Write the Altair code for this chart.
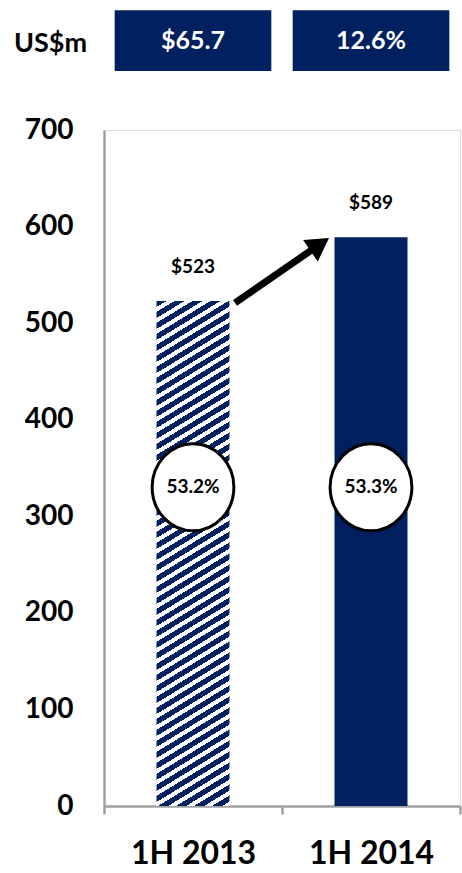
import altair as alt
import pandas as pd

# ---- data ----
categories = ["1H 2013", "1H 2014"]
revenue = [523, 589]
revenue_labels = ["$523", "$589"]
margin_labels = ["53.2%", "53.3%"]
header_labels = ["$65.7", "12.6%"]
unit_label = "US$m"

# ---- style ----
NAVY = "#002060"
GREY = "#a0a0a0"
FONT = "Lato"
W, H = 356, 676
Y_MAX = 700
PX_PER_UNIT = H / Y_MAX
BAR_FRAC = 0.41
HEADER_LO, HEADER_HI = 761, 824
BUBBLE_Y = 330
NAVY_SHARE = 0.56

df = pd.DataFrame({
    "cat": categories,
    "value": revenue,
    "vlabel": revenue_labels,
    "margin": margin_labels,
    "header": header_labels,
})

# hatch via a hard-stop linear gradient (bbox units)
bar_w = BAR_FRAC * (W / 2)
bar_h = revenue[0] * PX_PER_UNIT
p_h, p_v = 18.0, 11.0  # stripe periods (px) horizontally / vertically
dx = p_v * bar_w / (p_h * bar_h)
dy = 1.0
k = (dx + dy) / (dx * dx + dy * dy)
t_per_v = dy / (k * (dx * dx + dy * dy))
n_periods = (bar_h / p_v) / t_per_v
stops = []
i = 0
while i / n_periods < 1.0:
    a = i / n_periods
    b = min((i + NAVY_SHARE) / n_periods, 1.0)
    c = min((i + 1) / n_periods, 1.0)
    stops += [
        alt.GradientStop(color=NAVY, offset=a),
        alt.GradientStop(color=NAVY, offset=b),
        alt.GradientStop(color="white", offset=b),
        alt.GradientStop(color="white", offset=c),
    ]
    i += 1
hatch = alt.LinearGradient(gradient="linear", stops=stops,
                           x1=0, y1=0, x2=k * dx, y2=k * dy)

x_scale = alt.Scale(domain=categories, paddingInner=0, paddingOuter=0)
y_scale = alt.Scale(domain=[0, Y_MAX], nice=False)

x_axis = alt.Axis(title=None, labelAngle=0, tickBand="extent", tickSize=8,
                  tickColor=GREY, tickWidth=2.5, domainColor=GREY, domainWidth=2.5,
                  labelFont=FONT, labelFontWeight="bold", labelFontSize=32,
                  labelColor="black", labelPadding=24, grid=False)
y_axis = alt.Axis(values=list(range(0, Y_MAX + 1, 100)), ticks=False, grid=False,
                  domainColor=GREY, domainWidth=2.5,
                  labelFont=FONT, labelFontWeight="bold", labelFontSize=28,
                  labelColor="black", labelPadding=31,
                  title=unit_label, titleAngle=0, titleX=-54, titleY=-87,
                  titleAlign="center", titleBaseline="middle", titleFont=FONT,
                  titleFontSize=27, titleFontWeight="bold", titleColor="black")


def X(**kw):
    return alt.X("cat:N", scale=x_scale, axis=x_axis, sort=categories, **kw)


base = alt.Chart(df)

header_box = base.mark_bar(color=NAVY, width=alt.RelativeBandSize(0.88)).encode(
    x=X(), y=alt.Y(datum=HEADER_LO, scale=y_scale, axis=y_axis), y2=alt.datum(HEADER_HI))
header_text = base.mark_text(font=FONT, fontWeight="bold", fontSize=25, color="white",
                             baseline="middle").encode(
    x=X(), y=alt.Y(datum=(HEADER_LO + HEADER_HI) / 2, scale=y_scale, axis=y_axis),
    text="header:N")

bar_hatch = base.transform_filter(alt.datum.cat == categories[0]).mark_bar(
    color=hatch, width=alt.RelativeBandSize(BAR_FRAC)).encode(
    x=X(), y=alt.Y("value:Q", scale=y_scale, axis=y_axis))
bar_solid = base.transform_filter(alt.datum.cat == categories[1]).mark_bar(
    color=NAVY, width=alt.RelativeBandSize(BAR_FRAC)).encode(
    x=X(), y=alt.Y("value:Q", scale=y_scale, axis=y_axis))

value_text = base.mark_text(font=FONT, fontWeight="bold", fontSize=19, color="black",
                            baseline="bottom", dy=-24).encode(
    x=X(), y=alt.Y("value:Q", scale=y_scale, axis=y_axis), text="vlabel:N")

# arrow from top of bar 1 to top of bar 2
arrow_df = pd.DataFrame({"cat": [categories[0]], "cat_to": [categories[1]],
                         "y0": [revenue[0] - 2], "y1": [revenue[1] - 7.5]})
arrow_line = alt.Chart(arrow_df).mark_rule(color="black", strokeWidth=7).encode(
    x=X(bandPosition=0.736), x2=alt.X2("cat_to", bandPosition=0.212),
    y=alt.Y("y0:Q", scale=y_scale, axis=y_axis), y2="y1:Q")
head_df = pd.DataFrame({"cat": [categories[1]], "y": [revenue[1] - 7.5]})
arrow_head = alt.Chart(head_df).mark_point(shape="triangle-up", size=676, angle=55.6,
                                           filled=True, color="black", opacity=1).encode(
    x=X(bandPosition=0.212), y=alt.Y("y:Q", scale=y_scale, axis=y_axis))

ellipse = "M -0.94 0 A 0.94 1 0 1 1 0.94 0 A 0.94 1 0 1 1 -0.94 0 Z"
bubble = base.mark_point(shape=ellipse, size=87 * 87, filled=True, fill="white",
                         stroke="black", strokeWidth=3, opacity=1).encode(
    x=X(), y=alt.Y(datum=BUBBLE_Y, scale=y_scale, axis=y_axis))
bubble_text = base.mark_text(font=FONT, fontWeight="bold", fontSize=19, color="black",
                             baseline="middle").encode(
    x=X(), y=alt.Y(datum=BUBBLE_Y, scale=y_scale, axis=y_axis), text="margin:N")

chart = alt.layer(
    header_box, header_text, bar_hatch, bar_solid, value_text,
    arrow_line, arrow_head, bubble, bubble_text
).properties(
    width=W, height=H,
    autosize=alt.AutoSizeParams(type="none"),
    padding={"left": 104, "top": 130, "right": 2, "bottom": 67},
).configure_view(stroke=None).configure(background="white")

chart.save("out.html", embed_options={"renderer": "svg", "actions": False})
